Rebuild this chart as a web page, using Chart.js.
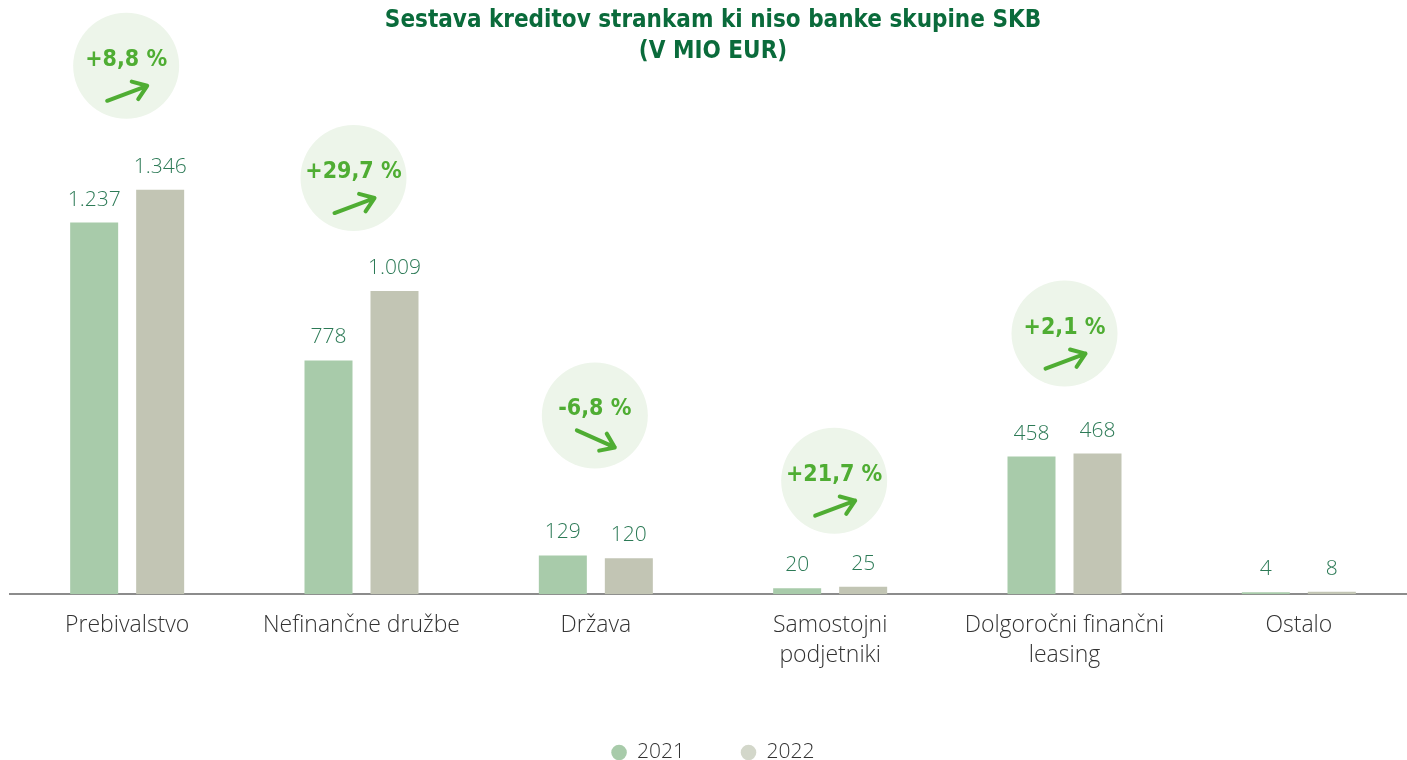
<!DOCTYPE html>
<html><head><meta charset="utf-8">
<script src="https://cdn.jsdelivr.net/npm/chart.js@4"></script>
<style>html,body{margin:0;padding:0;overflow:hidden;background:#fff}canvas{display:block}</style>
</head><body><canvas id="c" width="1424" height="773"></canvas>
<script>
const categories = ["Prebivalstvo", "Nefinančne družbe", "Država", ["Samostojni", "podjetniki"], ["Dolgoročni finančni", "leasing"], "Ostalo"];
const seriesLabels = ["2021", "2022"];
const values2021 = [1237, 778, 129, 20, 458, 4];
const values2022 = [1346, 1009, 120, 25, 468, 8];
const changeLabels = ["+8,8 %", "+29,7 %", "-6,8 %", "+21,7 %", "+2,1 %", null];
const changeDirection = [1, 1, -1, 1, 1, 0];
const titleLines = ["Sestava kreditov strankam ki niso banke skupine SKB", "(V MIO EUR)"];

// styling / placement (not data)
const barColors = ['#a8cbaa', '#c2c5b4'];
const legendColors = ['#a8cbaa', '#d3d7ca'];
const bubbleDx = [-1, -8, -1, 4, 0];
const bubbleRise = [124, 113, 140, 106, 120];

function fmt(v) { return String(v).replace(/\B(?=(\d{3})+(?!\d))/g, '.'); }

const valueLabels = {
  id: 'valueLabels',
  afterDatasetsDraw(chart) {
    const ctx = chart.ctx;
    ctx.save();
    ctx.font = '300 21px "Open Sans"';
    ctx.fillStyle = '#2c7a56';
    ctx.textAlign = 'center';
    ctx.textBaseline = 'middle';
    chart.data.datasets.forEach((ds, di) => {
      const meta = chart.getDatasetMeta(di);
      meta.data.forEach((el, i) => {
        ctx.fillText(fmt(ds.data[i]), el.x, el.y - 23);
      });
    });
    ctx.restore();
  }
};

const bubbles = {
  id: 'bubbles',
  afterDraw(chart) {
    const ctx = chart.ctx;
    const xs = chart.scales.x, ys = chart.scales.y;
    ctx.save();
    changeLabels.forEach((txt, i) => {
      if (!txt) return;
      const top = ys.getPixelForValue(Math.max(values2021[i], values2022[i]));
      const cx = xs.getPixelForValue(i) + bubbleDx[i];
      const cy = top - bubbleRise[i];
      ctx.beginPath();
      ctx.arc(cx, cy, 53, 0, Math.PI * 2);
      ctx.fillStyle = '#edf5ea';
      ctx.fill();
      ctx.font = 'bold 23px "DejaVu Sans Condensed", "DejaVu Sans"';
      ctx.fillStyle = '#4fad33';
      ctx.textAlign = 'center';
      ctx.textBaseline = 'middle';
      ctx.fillText(txt, cx, cy - 6);
      let x1, y1, x2, y2;
      if (changeDirection[i] > 0) { x1 = cx - 19; y1 = cy + 35; x2 = cx + 21; y2 = cy + 20; }
      else { x1 = cx - 18; y1 = cy + 15; x2 = cx + 20; y2 = cy + 32; }
      const ang = Math.atan2(y2 - y1, x2 - x1);
      const wl = 16, wa = 0.62;
      ctx.strokeStyle = '#4fad33';
      ctx.lineWidth = 4;
      ctx.lineCap = 'round';
      ctx.lineJoin = 'round';
      ctx.beginPath();
      ctx.moveTo(x1, y1); ctx.lineTo(x2, y2);
      ctx.moveTo(x2 - wl * Math.cos(ang - wa), y2 - wl * Math.sin(ang - wa));
      ctx.lineTo(x2, y2);
      ctx.lineTo(x2 - wl * Math.cos(ang + wa), y2 - wl * Math.sin(ang + wa));
      ctx.stroke();
    });
    ctx.restore();
  }
};

new Chart(document.getElementById('c'), {
  type: 'bar',
  data: {
    labels: categories,
    datasets: [
      { label: seriesLabels[0], data: values2021, backgroundColor: barColors[0] },
      { label: seriesLabels[1], data: values2022, backgroundColor: barColors[1] }
    ]
  },
  options: {
    responsive: false,
    animation: false,
    layout: { padding: { left: 10, right: 8, top: 5, bottom: 0 } },
    datasets: { bar: { categoryPercentage: 0.5633, barPercentage: 0.7273, minBarLength: 2 } },
    scales: {
      x: {
        grid: { display: false, drawTicks: false },
        border: { display: true, color: '#8c8c8c', width: 2 },
        ticks: { padding: 16, color: '#333', font: { family: '"Open Sans"', size: 23, weight: 300, lineHeight: 1.3 } }
      },
      y: { display: false, min: 0, max: 1700 }
    },
    plugins: {
      title: {
        display: true, text: titleLines, color: '#0a6b3b',
        font: { family: '"DejaVu Sans Condensed", "DejaVu Sans"', size: 24, weight: 'bold', lineHeight: 1.3 },
        padding: { top: 0, bottom: 16 }
      },
      legend: {
        position: 'bottom',
        labels: {
          usePointStyle: true, pointStyle: 'circle', boxWidth: 15, boxHeight: 11, padding: 56,
          color: '#333', font: { family: '"Open Sans"', size: 21, weight: 300 },
          generateLabels(chart) {
            const items = Chart.defaults.plugins.legend.labels.generateLabels(chart);
            items.forEach((it, i) => { it.fillStyle = legendColors[i]; it.strokeStyle = legendColors[i]; it.lineWidth = 0; });
            return items;
          }
        }
      },
      tooltip: { enabled: false }
    }
  },
  plugins: [valueLabels, bubbles]
});
</script></body></html>
